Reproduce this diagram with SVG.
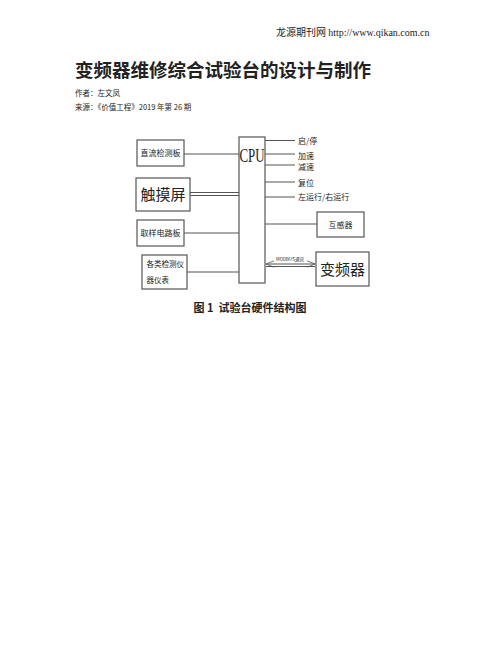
<svg xmlns="http://www.w3.org/2000/svg" width="502" height="649" viewBox="0 0 502 649">
<defs>
<style>
.cjk{font-family:"Noto Sans CJK SC","Noto Sans",sans-serif;fill:#222}
.box{fill:#fff;stroke:#555;stroke-width:1.2}
.ln{stroke:#555;stroke-width:1;fill:none}
</style>
<marker id="ah" viewBox="0 0 10 10" refX="10" refY="5" markerWidth="8" markerHeight="8" orient="auto-start-reverse" markerUnits="userSpaceOnUse">
<path d="M0,1 L10,5 L0,9" fill="none" stroke="#555" stroke-width="1"/>
</marker>
</defs>
<rect width="502" height="649" fill="#fff"/>
<g id="header">
<text x="276" y="36" class="cjk" font-size="10">龙源期刊网 <tspan font-family="Liberation Serif,serif" font-size="10">http://www.qikan.com.cn</tspan></text>
<text x="75" y="77" class="cjk" font-size="18.5" font-weight="bold" fill="#111">变频器维修综合试验台的设计与制作</text>
<text x="75" y="96" class="cjk" font-size="7.5">作者：左文凤</text>
<text x="75" y="110" class="cjk" font-size="7.5">来源：《价值工程》2019 年第 26 期</text>
</g>
<g id="connectors">
<line class="ln" x1="184" y1="154" x2="239" y2="154"/>
<line class="ln" x1="190" y1="192.5" x2="239" y2="192.5"/>
<line class="ln" x1="190" y1="195.5" x2="239" y2="195.5"/>
<line class="ln" x1="184" y1="233" x2="239" y2="233"/>
<line class="ln" x1="187" y1="272" x2="239" y2="272"/>
<line class="ln" x1="265" y1="140.5" x2="295" y2="140.5"/>
<line class="ln" x1="265" y1="154" x2="295" y2="154"/>
<line class="ln" x1="265" y1="165" x2="295" y2="165"/>
<line class="ln" x1="265" y1="182" x2="295" y2="182"/>
<line class="ln" x1="265" y1="197" x2="295" y2="197"/>
<line class="ln" x1="265" y1="224" x2="317" y2="224"/>
<line class="ln" x1="266" y1="264" x2="315" y2="264" marker-start="url(#ah)" marker-end="url(#ah)"/>
<line class="ln" x1="266" y1="266.5" x2="315" y2="266.5"/>
<text x="290" y="261" class="cjk" font-size="4.5" text-anchor="middle">MODBUS通讯</text>
</g>
<g id="cpu">
<rect class="box" x="239" y="137" width="26" height="146"/>
<text x="252" y="162" font-family="Liberation Serif,serif" font-size="18" text-anchor="middle" fill="#222" transform="translate(252 0) scale(0.72 1) translate(-252 0)">CPU</text>
</g>
<g id="zhiliu">
<rect class="box" x="137" y="140" width="47" height="26"/>
<text x="160.5" y="156" class="cjk" font-size="8" text-anchor="middle">直流检测板</text>
</g>
<g id="chumo">
<rect class="box" x="136" y="178" width="54" height="33"/>
<text x="163" y="200" class="cjk" font-size="15" text-anchor="middle">触摸屏</text>
</g>
<g id="quyang">
<rect class="box" x="137" y="220" width="47" height="26"/>
<text x="160.5" y="236" class="cjk" font-size="8" text-anchor="middle">取样电路板</text>
</g>
<g id="yiqi">
<rect class="box" x="142" y="255" width="45" height="34"/>
<text x="146.5" y="267" class="cjk" font-size="7.5">各类检测仪</text>
<text x="146.5" y="283" class="cjk" font-size="7.5">器仪表</text>
</g>
<g id="signals">
<text x="298" y="144" class="cjk" font-size="8">启/停</text>
<text x="298" y="159" class="cjk" font-size="8">加速</text>
<text x="298" y="170" class="cjk" font-size="8">减速</text>
<text x="298" y="186" class="cjk" font-size="8">复位</text>
<text x="298" y="200" class="cjk" font-size="8">左运行/右运行</text>
</g>
<g id="huganqi">
<rect class="box" x="317" y="212" width="47" height="25"/>
<text x="340.5" y="227.5" class="cjk" font-size="8" text-anchor="middle">互感器</text>
</g>
<g id="bianpinqi">
<rect class="box" x="316" y="252" width="53" height="34"/>
<text x="342.5" y="275" class="cjk" font-size="15" text-anchor="middle">变频器</text>
</g>
<g id="caption">
<text x="250" y="312" class="cjk" font-size="11" font-weight="bold" text-anchor="middle" fill="#111" xml:space="preserve">图 1  试验台硬件结构图</text>
</g>
</svg>
